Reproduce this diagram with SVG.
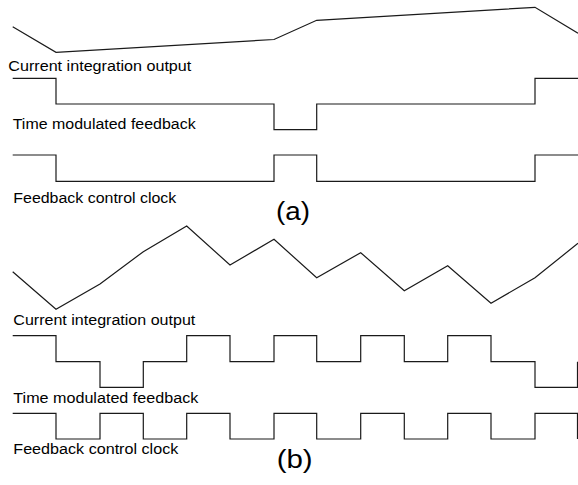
<svg xmlns="http://www.w3.org/2000/svg" width="578" height="485" viewBox="0 0 578 485">
<style>
.w{fill:none;stroke:#1a1a1a;stroke-width:1.2;stroke-linejoin:miter}
.l{font-family:"Liberation Sans",Arial,sans-serif;font-size:14px;fill:#000}
.c{font-family:"Liberation Sans",Arial,sans-serif;font-size:25px;fill:#000}
</style>
<rect width="578" height="485" fill="#fff"/>
<g id="panel-a">
<g id="a-integration">
<polyline class="w" points="12.7,26.7 56,52.3 274,39.5 316.7,20.3 535,7.3 578,33.3"/>
<text class="l" x="8.3" y="71" textLength="183" lengthAdjust="spacingAndGlyphs">Current integration output</text>
</g>
<g id="a-feedback">
<polyline class="w" points="12.7,78.3 56,78.3 56,104 274,104 274,129.7 316.7,129.7 316.7,104 535,104 535,78.3 578,78.3"/>
<text class="l" x="12.7" y="129.3" textLength="183" lengthAdjust="spacingAndGlyphs">Time modulated feedback</text>
</g>
<g id="a-clock">
<polyline class="w" points="12.7,155 56,155 56,181.3 274,181.3 274,155 316.7,155 316.7,181.3 535,181.3 535,155 578,155"/>
<text class="l" x="13.3" y="203.3" textLength="163" lengthAdjust="spacingAndGlyphs">Feedback control clock</text>
</g>
<text id="a-caption" class="c" x="276" y="220" textLength="34" lengthAdjust="spacingAndGlyphs">(a)</text>
</g>
<g id="panel-b">
<g id="b-integration">
<polyline class="w" points="12.7,271.7 56,309.3 100,284 143.3,251.7 186.7,226 230,265 274,239.3 316.7,277.7 360.7,252.7 404.3,290.7 447.7,265.7 491,303.3 535,277.7 578,243.3"/>
<text class="l" x="13.3" y="324.5" textLength="182" lengthAdjust="spacingAndGlyphs">Current integration output</text>
</g>
<g id="b-feedback">
<polyline class="w" points="12.7,335.7 56,335.7 56,361.7 100,361.7 100,387.3 143.3,387.3 143.3,361.7 186.7,361.7 186.7,335.7 230,335.7 230,361.7 274,361.7 274,335.7 316.7,335.7 316.7,361.7 360.7,361.7 360.7,335.7 404.3,335.7 404.3,361.7 447.7,361.7 447.7,335.7 491,335.7 491,361.7 535,361.7 535,387.3 577.5,387.3 577.5,361.7"/>
<text class="l" x="13.3" y="403" textLength="185" lengthAdjust="spacingAndGlyphs">Time modulated feedback</text>
</g>
<g id="b-clock">
<polyline class="w" points="12.7,413.3 56,413.3 56,439 100,439 100,413.3 143.3,413.3 143.3,439 186.7,439 186.7,413.3 230,413.3 230,439 274,439 274,413.3 316.7,413.3 316.7,439 360.7,439 360.7,413.3 404.3,413.3 404.3,439 447.7,439 447.7,413.3 491,413.3 491,439 535,439 535,413.3 577.5,413.3 577.5,439"/>
<text class="l" x="13.3" y="454.3" textLength="165" lengthAdjust="spacingAndGlyphs">Feedback control clock</text>
</g>
<text id="b-caption" class="c" x="276.7" y="468" textLength="36" lengthAdjust="spacingAndGlyphs">(b)</text>
</g>
</svg>
